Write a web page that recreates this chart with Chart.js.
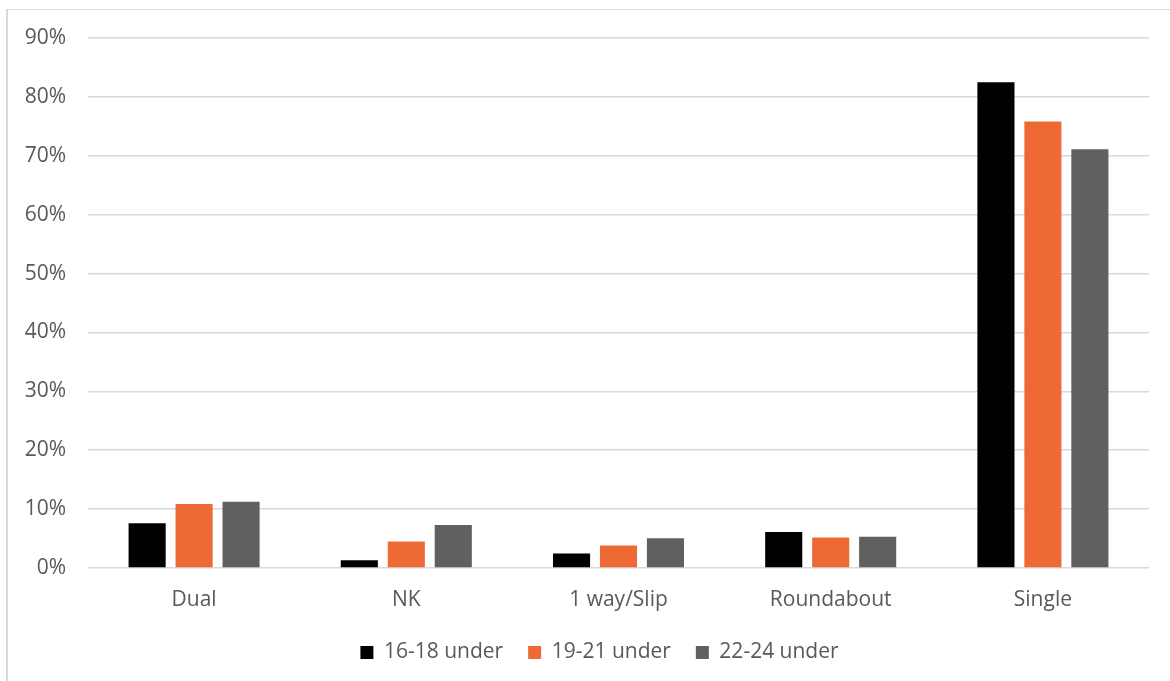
<!DOCTYPE html>
<html>
<head>
<meta charset="utf-8">
<script src="https://cdn.jsdelivr.net/npm/chart.js@4"></script>
<style>
  html, body { margin: 0; padding: 0; background: #ffffff; }
  #wrap { position: relative; width: 1170px; height: 681px; overflow: hidden; }
  #frame { position: absolute; left: 6px; top: 9px; width: 1200px; height: 700px;
           border-left: 2px solid #d9d9d9; border-top: 1px solid #d9d9d9; box-sizing: border-box; }
  canvas { position: absolute; left: 0; top: 0; }
</style>
</head>
<body>
<div id="wrap">
  <div id="frame"></div>
  <canvas id="chart" width="1170" height="681"></canvas>
</div>
<script>
// Road types and the share of collisions for each age band
const categories = ['Dual', 'NK', '1 way/Slip', 'Roundabout', 'Single'];
const seriesNames = ['16-18 under', '19-21 under', '22-24 under'];
const age16to18 = [7.6, 1.3, 2.45, 6.1, 82.5];
const age19to21 = [10.85, 4.5, 3.8, 5.2, 75.8];
const age22to24 = [11.25, 7.3, 5.05, 5.3, 71.1];
const yTicks = [0, 10, 20, 30, 40, 50, 60, 70, 80, 90];

const textColor = '#595959';
const gridColor = '#d9d9d9';
const fontFamily = '"Open Sans", "Noto Sans", sans-serif';

const palette = ['#000000', '#EE6A35', '#606060'];
const values = [age16to18, age19to21, age22to24];

// Nudge the legend box right so it sits centred under the plot area
const legendShift = {
  id: 'legendShift',
  afterLayout(chart) {
    const lg = chart.legend;
    if (lg) { lg.left += 21; lg.right += 21; }
  }
};

new Chart(document.getElementById('chart'), {
  type: 'bar',
  data: {
    labels: categories,
    datasets: seriesNames.map((name, i) => ({
      label: name,
      data: values[i],
      backgroundColor: palette[i],
      borderWidth: 0,
      categoryPercentage: 0.664,
      barPercentage: 0.79
    }))
  },
  options: {
    responsive: false,
    animation: false,
    layout: { padding: { left: 8, top: 38, right: 21, bottom: 8 } },
    scales: {
      x: {
        grid: { display: false, drawTicks: false },
        border: { display: false },
        ticks: { color: textColor, font: { family: fontFamily, size: 21 }, padding: 19, maxRotation: 0 },
        afterFit: s => { s.height = 49; }
      },
      y: {
        min: 0,
        max: 90,
        afterBuildTicks: s => { s.ticks = yTicks.map(v => ({ value: v })); },
        grid: { color: gridColor, lineWidth: 1.5, drawTicks: false },
        border: { display: false },
        ticks: {
          color: textColor,
          font: { family: fontFamily, size: 21 },
          padding: 22,
          callback: v => v + '%'
        },
        afterFit: s => { s.width = 80; }
      }
    },
    plugins: {
      legend: {
        position: 'bottom',
        labels: {
          color: textColor,
          font: { family: fontFamily, size: 21 },
          boxWidth: 13,
          boxHeight: 13,
          padding: 25
        }
      },
      tooltip: { enabled: false }
    }
  },
  plugins: [legendShift]
});
</script>
</body>
</html>
